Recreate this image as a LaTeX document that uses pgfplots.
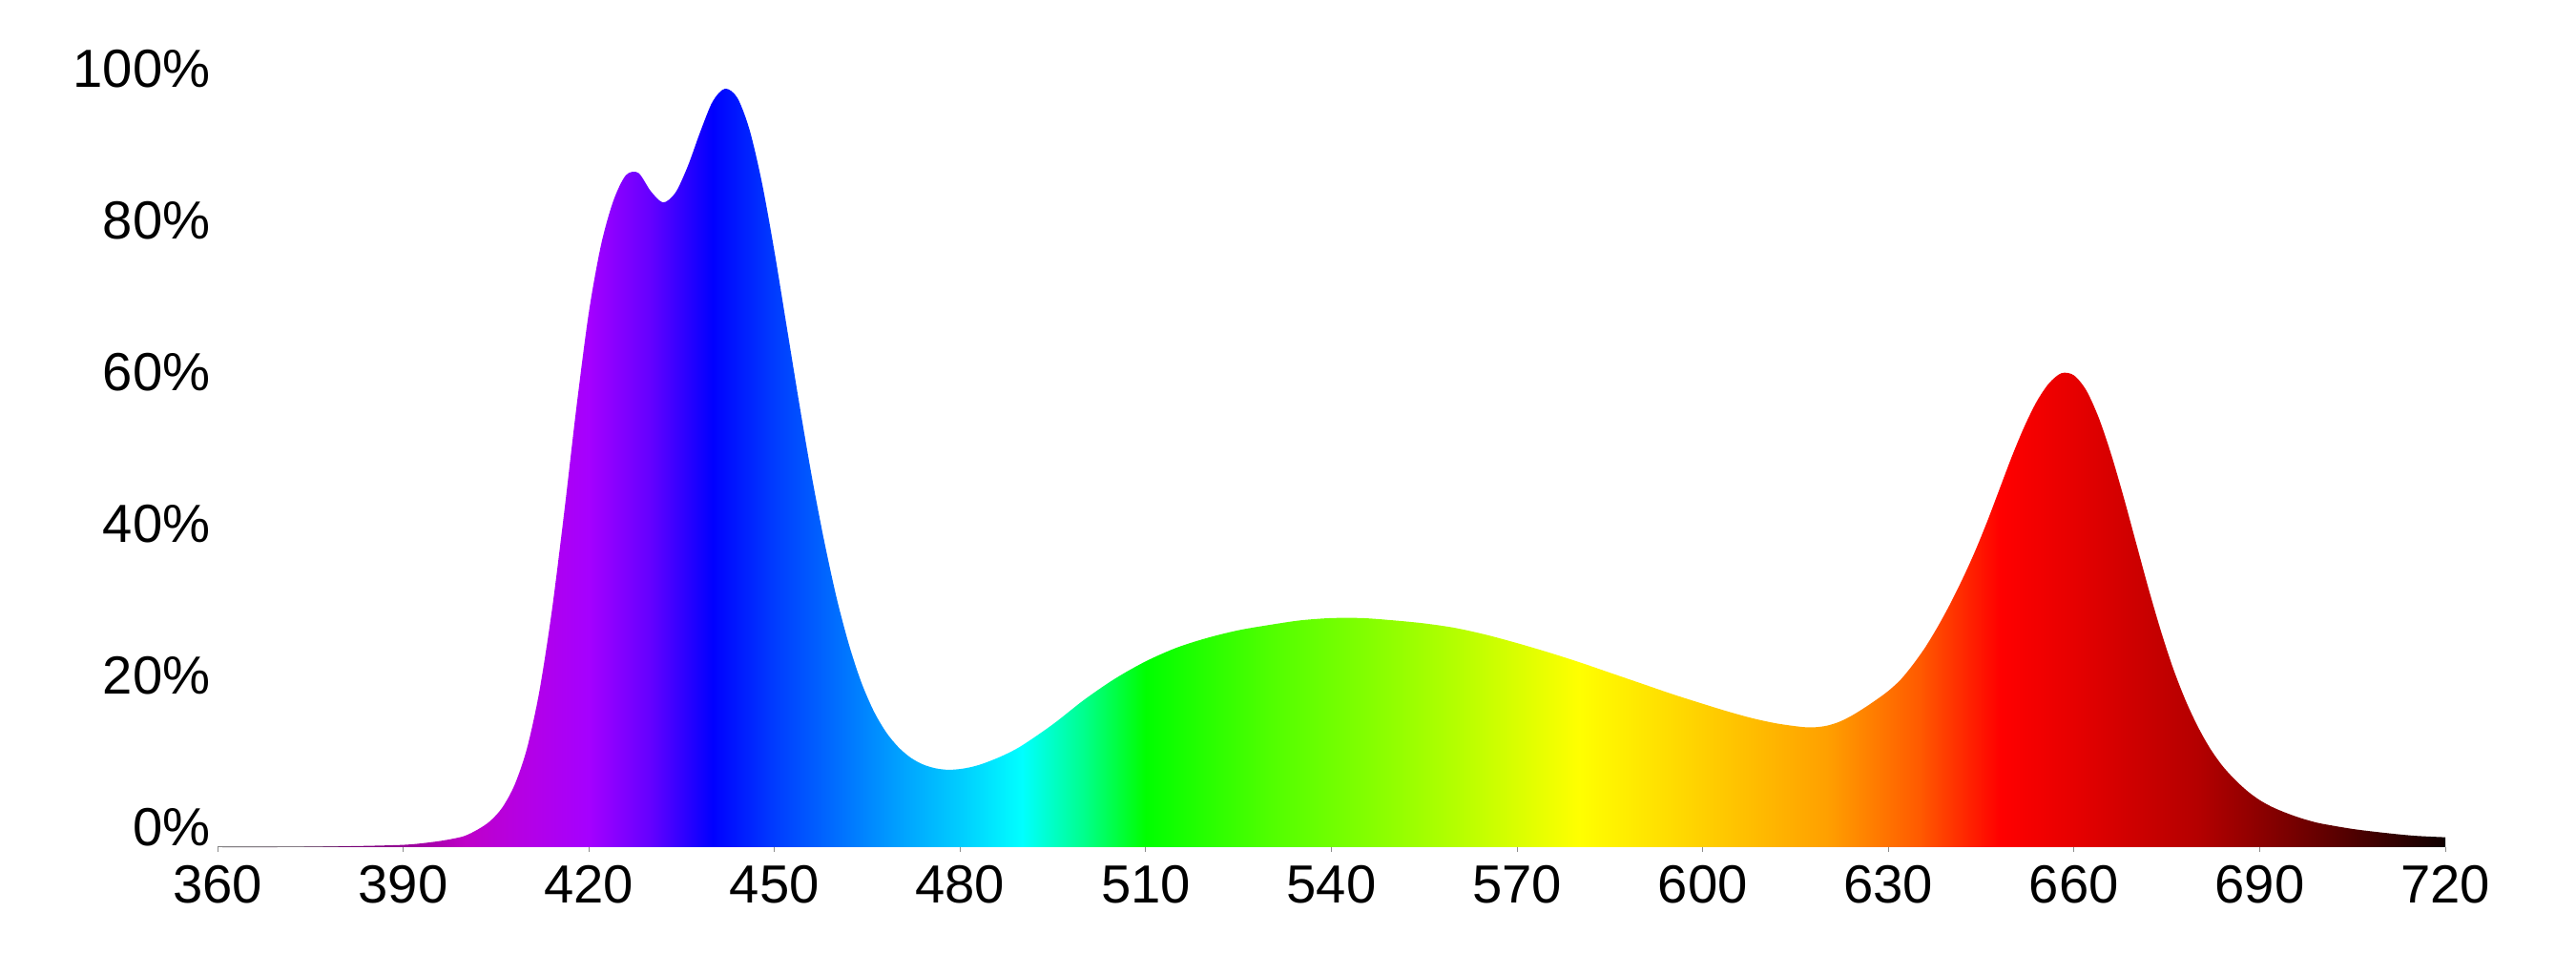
\documentclass[border=0pt]{standalone}
\usepackage{fontspec}
\setmainfont{Liberation Sans}
\usepackage{pgfplots}
\pgfplotsset{compat=1.18}

\definecolor{s360}{RGB}{50,40,50}
\definecolor{s375}{RGB}{90,0,90}
\definecolor{s390}{RGB}{150,0,150}
\definecolor{s400}{RGB}{190,0,200}
\definecolor{s410}{RGB}{180,0,230}
\definecolor{s420}{RGB}{165,0,255}
\definecolor{s430}{RGB}{100,0,255}
\definecolor{s440}{RGB}{0,0,255}
\definecolor{s450}{RGB}{0,60,255}
\definecolor{s460}{RGB}{0,110,255}
\definecolor{s470}{RGB}{0,160,255}
\definecolor{s480}{RGB}{0,205,255}
\definecolor{s490}{RGB}{0,255,255}
\definecolor{s500}{RGB}{0,255,140}
\definecolor{s510}{RGB}{0,255,0}
\definecolor{s530}{RGB}{80,255,0}
\definecolor{s545}{RGB}{128,255,0}
\definecolor{s560}{RGB}{180,255,0}
\definecolor{s580}{RGB}{255,255,0}
\definecolor{s600}{RGB}{255,208,0}
\definecolor{s620}{RGB}{255,160,0}
\definecolor{s635}{RGB}{255,90,0}
\definecolor{s648}{RGB}{255,0,0}
\definecolor{s660}{RGB}{230,0,0}
\definecolor{s680}{RGB}{180,0,0}
\definecolor{s700}{RGB}{100,0,0}
\definecolor{s720}{RGB}{15,0,0}
\definecolor{axisgray}{RGB}{140,140,140}

% path width maps to 25bp..75bp ; p = 25 + (nm-360)/7.2
\pgfdeclarehorizontalshading{spectrum}{100bp}{%
color(0bp)=(s360); color(25bp)=(s360);
color(27.0833bp)=(s375); color(29.1667bp)=(s390);
color(30.5556bp)=(s400); color(31.9444bp)=(s410);
color(33.3333bp)=(s420); color(34.7222bp)=(s430);
color(36.1111bp)=(s440); color(37.5bp)=(s450);
color(38.8889bp)=(s460); color(40.2778bp)=(s470);
color(41.6667bp)=(s480); color(43.0556bp)=(s490);
color(44.4444bp)=(s500); color(45.8333bp)=(s510);
color(48.6111bp)=(s530); color(50.6944bp)=(s545);
color(52.7778bp)=(s560); color(55.5556bp)=(s580);
color(58.3333bp)=(s600); color(61.1111bp)=(s620);
color(63.1944bp)=(s635); color(65bp)=(s648);
color(66.6667bp)=(s660); color(69.4444bp)=(s680);
color(72.2222bp)=(s700); color(75bp)=(s720);
color(100bp)=(s720)}

\pgfplotstableread{
nm   val
360  0
370  0
380  0.1
390  0.3
395  0.7
398  1.1
400  1.5
402  2.3
404  3.4
406  5.2
408  8.2
410  13
412  20.5
414  31
416  44
418  58
420  70.5
422  79.5
424  85.3
426  88.6
428  88.9
430  86.5
432  85
434  86.3
436  89.8
438  94.3
440  98.3
442  100
444  98.8
446  94.5
448  87.5
450  78.5
452  68.5
454  58.5
456  49
458  40.5
460  33
462  26.8
464  21.8
466  18
468  15.2
470  13.2
472  11.8
474  10.9
476  10.4
478  10.2
480  10.3
482  10.6
484  11.1
487  12.1
490  13.4
495  16.2
500  19.4
505  22.2
510  24.5
515  26.3
520  27.6
525  28.6
530  29.3
535  29.9
540  30.2
545  30.2
550  29.9
555  29.5
560  28.9
565  28.0
570  26.9
575  25.7
580  24.4
585  23.0
590  21.6
595  20.2
600  18.9
604  17.9
608  17.0
612  16.3
616  15.85
618  15.8
620  16.0
622  16.5
624  17.3
626  18.3
628  19.4
630  20.6
632  22.1
634  24.1
636  26.4
638  29.1
640  32.1
642  35.4
644  39
646  43
648  47.3
650  51.6
652  55.5
654  58.8
656  61.2
658  62.5
660  62.2
662  60.2
664  56.6
666  51.8
668  46.2
670  40.2
672  34.2
674  28.6
676  23.6
678  19.4
680  15.9
682  13.0
684  10.7
686  8.9
688  7.4
690  6.2
692  5.3
694  4.6
696  4.0
698  3.5
700  3.1
705  2.4
710  1.9
715  1.5
720  1.3
}\spec

\begin{document}
\begin{tikzpicture}
\useasboundingbox (0,0) rectangle (270mm,100mm);
\begin{axis}[
  at={(22.8mm,11.2mm)}, anchor=south west,
  scale only axis,
  width=233.5mm, height=79.5mm,
  xmin=360, xmax=720, ymin=0, ymax=100,
  clip=false,
  axis x line=bottom, axis y line=left,
  x axis line style={draw=axisgray, line width=0.1mm, -},
  y axis line style={draw=none},
  xtick={360,390,...,720},
  xticklabels={360,390,420,450,480,510,540,570,600,630,660,690,720},
  ytick={0,20,40,60,80,100},
  yticklabels={0\%,20\%,40\%,60\%,80\%,100\%},
  tick align=outside,
  xtick style={draw=axisgray, line width=0.1mm},
  ytick style={draw=none},
  x tick label style={font=\fontsize{16}{19}\selectfont, inner sep=0pt, anchor=north, yshift=-1.4mm},
  y tick label style={font=\fontsize{16}{19}\selectfont, inner sep=0pt, anchor=east, xshift=-0.2mm, yshift=2.1mm},
  major tick length=0.5mm,
]
\addplot[draw=none, shading=spectrum, shading angle=0, smooth] table[x=nm, y=val] {\spec} \closedcycle;
\end{axis}
\end{tikzpicture}
\end{document}
